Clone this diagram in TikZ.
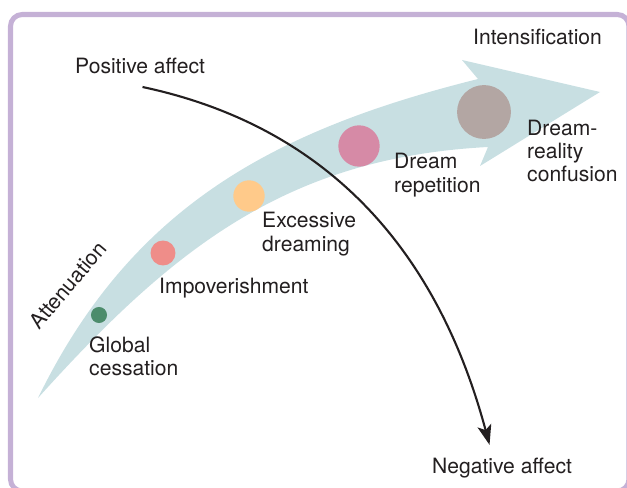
\documentclass[tikz,border=0pt]{standalone}
\usepackage{fontspec}
\setmainfont{TeX Gyre Heros}
\usetikzlibrary{arrows.meta}
\definecolor{ink}{HTML}{231F20}
\definecolor{framecol}{HTML}{C5B1D6}
\definecolor{bandcol}{HTML}{C8DFE2}
\definecolor{cessation}{HTML}{4C8C6C}
\definecolor{impov}{HTML}{EF8D89}
\definecolor{excess}{HTML}{FFCA8A}
\definecolor{repeat}{HTML}{D68AA6}
\definecolor{confuse}{HTML}{B3A6A3}
\begin{document}
\begin{tikzpicture}[x=0.03cm,y=-0.03cm,
    lbl/.style={anchor=west,align=left,inner sep=0pt,text=ink,font=\fontsize{18}{20}\selectfont},
    dot/.style={circle,inner sep=0pt}]
    \useasboundingbox (0,0) rectangle (627,488);
    \begin{scope}
      \clip (0,0) rectangle (627,488);
      \draw[framecol,line width=4.3pt,rounded corners=10pt] (10.5,14.5) rectangle (629,491);
    \end{scope}

    % the band
    \fill[bandcol] (38,398) to[out=64,in=194] (478,79) -- (462,60) -- (600,92)
      -- (480,166) -- (488,147) to[out=183,in=48] (38,398) -- cycle;

    \node[dot,fill=cessation,minimum size=13.7pt] (glob) at (99,315) {};
    \node[dot,fill=impov,minimum size=21.3pt] (imp) at (163,253) {};
    \node[dot,fill=excess,minimum size=26.8pt] (exc) at (249,196) {};
    \node[dot,fill=repeat,minimum size=35.3pt] (rep) at (359,146) {};
    \node[dot,fill=confuse,minimum size=46pt] (conf) at (484,112) {};

    \node[lbl] (globl) at (89,356) {Global\\cessation};
    \node[lbl] (impl) at (159,288) {Impoverishment};
    \node[lbl] (excl) at (262,234) {Excessive\\dreaming};
    \node[lbl] (repl) at (394,175) {Dream\\repetition};
    \node[lbl] (confl) at (527,151) {Dream-\\reality\\confusion};
    \node[lbl] (intens) at (473,37) {Intensification};
    \node[lbl,anchor=center,rotate=50] (atten) at (68,285) {Attenuation};

    \node[lbl] (pos) at (75,66) {Positive affect};
    \node[lbl] (neg) at (432,468) {Negative affect};
    \draw[ink,line width=1.8pt,-{Stealth[length=17pt,width=12pt,inset=4pt]}]
      ([xshift=2pt,yshift=-11pt]pos.south) to[out=-12,in=105] ([xshift=-10.7pt,yshift=11pt]neg.north);
\end{tikzpicture}
\end{document}
